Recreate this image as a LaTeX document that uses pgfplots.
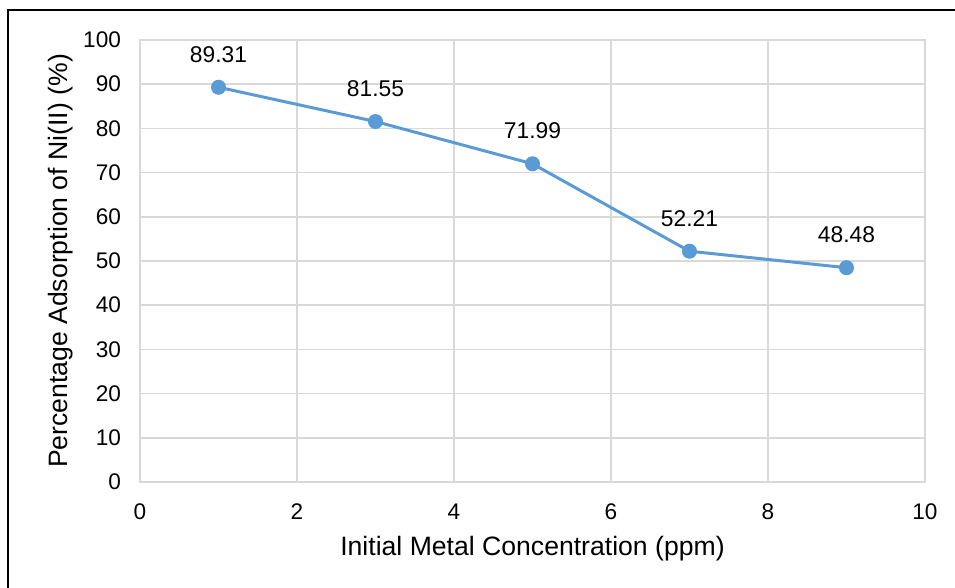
\documentclass[border=0pt]{standalone}
\usepackage{pgfplots}
\pgfplotsset{compat=1.18}
\usepackage{fontspec}
\setmainfont{Liberation Sans}
\definecolor{ser}{HTML}{5B9BD5}
\definecolor{gridc}{HTML}{D9D9D9}
\begin{document}
\begin{tikzpicture}
\path[use as bounding box] (0pt,0pt) rectangle (477.5pt,294pt);
\draw[black, line width=0.75pt] (4pt,0pt) -- (4pt,289pt) -- (477.5pt,289pt);
\begin{axis}[
  at={(70pt,53pt)}, anchor=south west,
  scale only axis, width=392.5pt, height=221pt,
  xmin=0, xmax=10, ymin=0, ymax=100,
  xtick={0,2,...,10}, ytick={0,10,...,100},
  grid=major, major grid style={gridc, line width=0.75pt},
  axis line style={gridc, line width=0.75pt},
  tick style={draw=none},
  tick label style={font=\fontsize{11.3}{13}\selectfont},
  /pgf/number format/assume math mode=true,
  xticklabel style={yshift=-7.5pt},
  yticklabel style={xshift=-6pt},
  xlabel={Initial Metal Concentration (ppm)},
  ylabel={Percentage Adsorption of Ni(II) (\%)},
  label style={font=\fontsize{13.3}{15}\selectfont},
  xlabel style={yshift=-1pt},
  ylabel style={yshift=-2pt},
  nodes near coords, point meta=explicit symbolic,
  nodes near coords style={font=\fontsize{11.4}{13}\selectfont, anchor=center, yshift=16.5pt, black},
  clip=false,
]
\addplot[ser, line width=1.5pt, mark=*, mark size=3pt, mark options={fill=ser, draw=ser}]
  coordinates {(1,89.31)[89.31] (3,81.55)[81.55] (5,71.99)[71.99] (7,52.21)[52.21] (9,48.48)[48.48]};
\end{axis}
\end{tikzpicture}
\end{document}
